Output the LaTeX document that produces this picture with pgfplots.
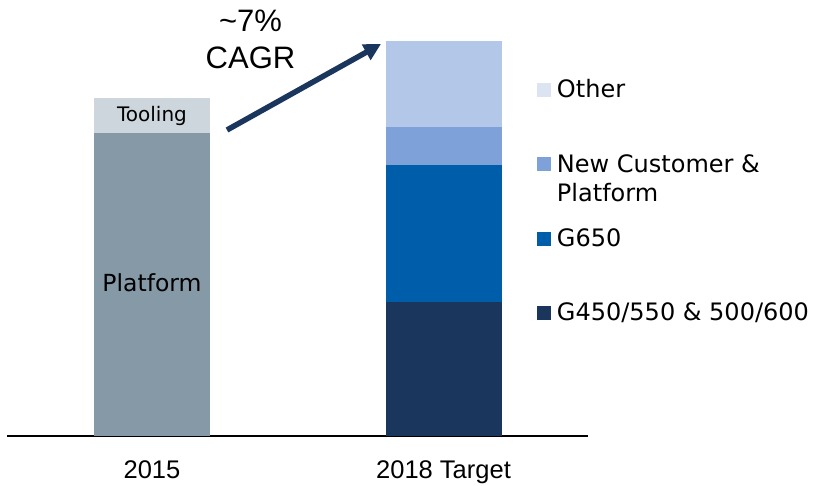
\documentclass[border=0pt]{standalone}
\usepackage{fontspec}
\setmainfont{DejaVu Sans}
\newfontfamily\arial{Liberation Sans}
\usepackage{pgfplots}
\pgfplotsset{compat=1.18}
\usetikzlibrary{arrows.meta}

\definecolor{cPlatform}{HTML}{8599A6}
\definecolor{cTooling}{HTML}{CDD5DD}
\definecolor{cGold}{HTML}{1B365D}
\definecolor{cGsix}{HTML}{005DAA}
\definecolor{cNew}{HTML}{7DA1D8}
\definecolor{cOther}{HTML}{B3C8E8}
\definecolor{cOtherLeg}{HTML}{DCE4F2}

% legend rows all get one strut's height and depth, so the spacing is even
\newcommand\legone[1]{\strut #1}
\newcommand\legtwo[2]{\raisebox{0pt}[\ht\strutbox][\dp\strutbox]{\vtop{\hbox{\strut #1}\hbox{\strut #2}}}}
\pgfplotsset{sw/.style={legend image code/.code={\fill[##1] (0pt,1pt) rectangle (14pt,15pt);}}}

\begin{document}
\begin{tikzpicture}
\useasboundingbox (0pt,0pt) rectangle (813pt,485pt);
\begin{axis}[
	at={(7pt,49pt)}, anchor=south west,
	scale only axis, width=581pt, height=436pt,
	xmin=-0.4974, xmax=1.4957, ymin=0, ymax=436,
	ybar stacked, bar width=116pt,
	hide y axis,
	axis x line=bottom, axis line style={-, line width=2pt, black},
	xtick={0,1}, xticklabels={2015,2018 Target},
	major tick length=0pt, xtick style={draw=none},
	xticklabel style={anchor=base, yshift=-42pt, font=\arial\fontsize{25.5}{30}\selectfont},
	clip=false,
	legend style={at={(0.9122,0.8264)}, anchor=north west, draw=none, fill=none,
		inner sep=0pt, outer sep=0pt, row sep=48.5pt, column sep=4pt,
		font=\fontsize{24}{29}\selectfont, cells={anchor=base west, inner sep=0pt}},
]
\addplot[fill=cPlatform, draw=none, forget plot] coordinates {(0,303.3) (1,0)};
\addplot[fill=cTooling, draw=none, forget plot] coordinates {(0,34.4) (1,0)};
\addplot[fill=cGold, draw=none, forget plot] coordinates {(0,0) (1,134)};
\addplot[fill=cGsix, draw=none, forget plot] coordinates {(0,0) (1,137)};
\addplot[fill=cNew, draw=none, forget plot] coordinates {(0,0) (1,38.3)};
\addplot[fill=cOther, draw=none, forget plot] coordinates {(0,0) (1,85.7)};

\addlegendimage{sw, fill=cOtherLeg, draw=none}
\addlegendentry{\legone{Other}}
\addlegendimage{sw, fill=cNew, draw=none}
\addlegendentry{\legtwo{New Customer \&}{Platform}}
\addlegendimage{sw, fill=cGsix, draw=none}
\addlegendentry{\legone{G650}}
\addlegendimage{sw, fill=cGold, draw=none}
\addlegendentry{\legone{G450/550 \& 500/600}}
\end{axis}
\node[font=\fontsize{23.5}{28}\selectfont, anchor=base] at (152pt,193.3pt) {Platform};
\node[font=\fontsize{20}{24}\selectfont, anchor=base] at (152pt,363.3pt) {Tooling};
\node[anchor=base, font=\arial\fontsize{31}{36}\selectfont] at (250.5pt,453pt) {\textasciitilde7\%};
\node[anchor=base, font=\arial\fontsize{31}{36}\selectfont] at (250.5pt,416.7pt) {CAGR};
\draw[cGold, line width=5.5pt, -{Triangle[length=17pt,width=17pt]}] (227pt,355pt) -- (381pt,441pt);
\end{tikzpicture}
\end{document}
